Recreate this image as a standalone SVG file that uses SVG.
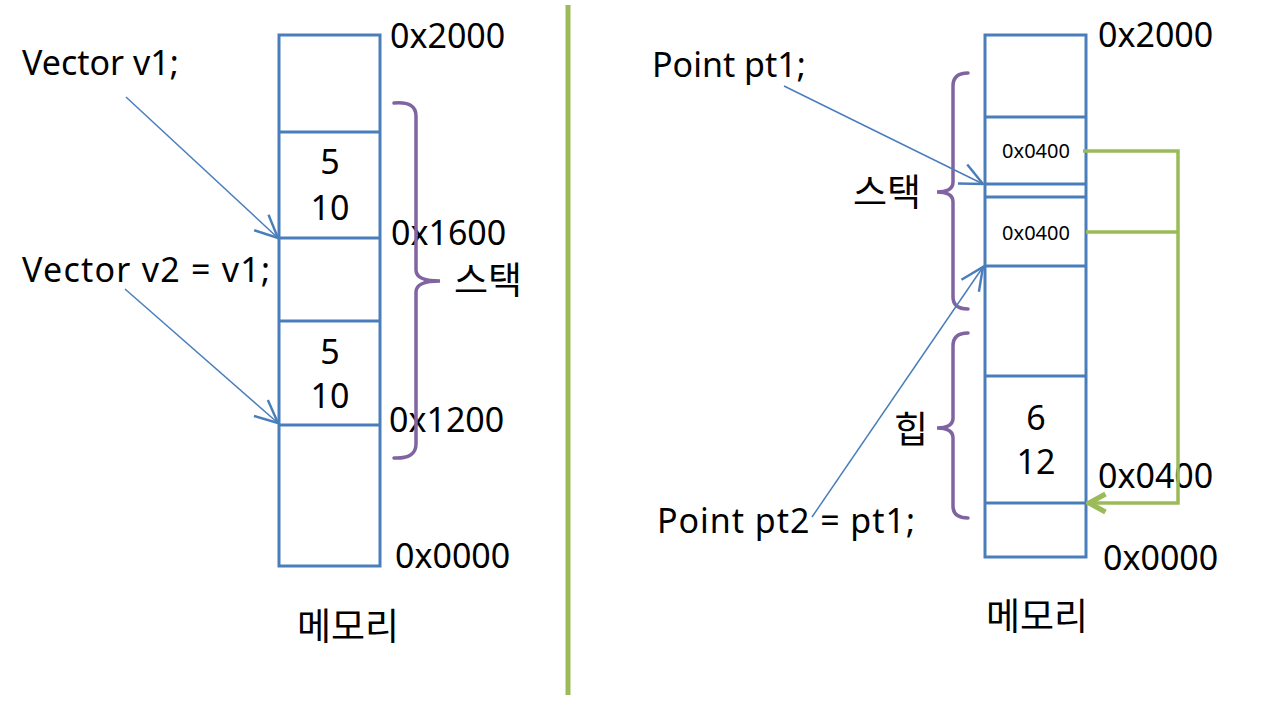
<svg xmlns="http://www.w3.org/2000/svg" width="1280" height="709" viewBox="0 0 1280 709">
<defs>
<style>
.t{font-family:"Noto Sans","Noto Sans CJK KR",sans-serif;fill:#000}
.big{font-size:34px}
.kr{font-size:37px}
.sm{font-size:20px}
.cell{fill:#fff;stroke:#4A7EBB;stroke-width:3}
.hl{stroke:#4A7EBB;stroke-width:3}
.ptr{stroke:#4A7EBB;stroke-width:1.5;fill:none}
.br{stroke:#8064A2;stroke-width:3.5;fill:none;stroke-linecap:round}
.gr{stroke:#9BBB59;stroke-width:3.5;fill:none}
</style>
<marker id="ab" markerUnits="userSpaceOnUse" markerWidth="26" markerHeight="26" refX="15" refY="8" orient="auto" viewBox="0 0 16 16">
<path d="M1,1.5 L15,8 L1,14.5" fill="none" stroke="#4A7EBB" stroke-width="1.5"/>
</marker>
<marker id="ag" markerUnits="userSpaceOnUse" markerWidth="24" markerHeight="24" refX="14" refY="8" orient="auto" viewBox="0 0 16 16">
<path d="M3,2 L14,8 L3,14" fill="none" stroke="#9BBB59" stroke-width="3.5"/>
</marker>
</defs>
<rect width="1280" height="709" fill="#fff"/>

<line x1="568" y1="5" x2="568" y2="695" stroke="#9BBB59" stroke-width="5"/>

<g id="left-memory">
<rect class="cell" x="279" y="35" width="101" height="531"/>
<line class="hl" x1="279" y1="132" x2="380" y2="132"/>
<line class="hl" x1="279" y1="238" x2="380" y2="238"/>
<line class="hl" x1="279" y1="321" x2="380" y2="321"/>
<line class="hl" x1="279" y1="425" x2="380" y2="425"/>
<text class="t big" x="330" y="174" text-anchor="middle">5</text>
<text class="t big" x="330" y="220" text-anchor="middle">10</text>
<text class="t big" x="330" y="364" text-anchor="middle">5</text>
<text class="t big" x="330" y="408" text-anchor="middle">10</text>
<text class="t kr" x="348" y="640" text-anchor="middle">메모리</text>
</g>

<g id="left-addresses">
<text class="t big" x="390" y="48">0x2000</text>
<text class="t big" x="391" y="245">0x1600</text>
<text class="t big" x="389" y="432">0x1200</text>
<text class="t big" x="395" y="568">0x0000</text>
</g>

<g id="left-code">
<text class="t big" x="22" y="75">Vector v1;</text>
<text class="t big" x="22" y="282" textLength="248">Vector v2 = v1;</text>
</g>

<g id="left-stack">
<path class="br" d="M394,103 Q416,101 416,116 V270 Q416,281 440,281 Q416,281 416,292 V444 Q416,459 394,458"/>
<text class="t kr" x="488" y="294" text-anchor="middle">스택</text>
</g>

<g id="right-memory">
<rect class="cell" x="985" y="35" width="101" height="522"/>
<line class="hl" x1="985" y1="117" x2="1086" y2="117"/>
<line class="hl" x1="985" y1="184" x2="1086" y2="184"/>
<line class="hl" x1="985" y1="197" x2="1086" y2="197"/>
<line class="hl" x1="985" y1="266" x2="1086" y2="266"/>
<line class="hl" x1="985" y1="376" x2="1086" y2="376"/>
<line class="hl" x1="985" y1="503" x2="1086" y2="503"/>
<text class="t sm" x="1036" y="158" text-anchor="middle">0x0400</text>
<text class="t sm" x="1036" y="240" text-anchor="middle">0x0400</text>
<text class="t big" x="1036" y="430" text-anchor="middle">6</text>
<text class="t big" x="1036" y="474" text-anchor="middle">12</text>
<text class="t kr" x="1037" y="630" text-anchor="middle">메모리</text>
</g>

<g id="right-addresses">
<text class="t big" x="1098" y="47">0x2000</text>
<text class="t big" x="1098" y="488">0x0400</text>
<text class="t big" x="1103" y="570">0x0000</text>
</g>

<g id="right-code">
<text class="t big" x="652" y="77">Point pt1;</text>
<text class="t big" x="657" y="533" textLength="258">Point pt2 = pt1;</text>
</g>

<g id="right-stack">
<path class="br" d="M968,73 Q953,73 953,86 V182 Q953,192 937,192 Q953,192 953,202 V297 Q953,309 968,309"/>
<text class="t kr" x="887" y="206" text-anchor="middle">스택</text>
</g>

<g id="right-heap">
<path class="br" d="M968,333 Q953,333 953,346 V418 Q953,428 937,428 Q953,428 953,438 V506 Q953,518 968,518"/>
<text class="t kr" x="911" y="443" text-anchor="middle">힙</text>
</g>

<g id="connectors">
<line class="ptr" x1="126" y1="97" x2="278" y2="238" marker-end="url(#ab)"/>
<line class="ptr" x1="125" y1="289" x2="278" y2="423" marker-end="url(#ab)"/>
<line class="ptr" x1="784" y1="86" x2="983" y2="184" marker-end="url(#ab)"/>
<line class="ptr" x1="812" y1="517" x2="983" y2="267" marker-end="url(#ab)"/>
<path class="gr" d="M1083,151 H1178 V503 H1089" marker-end="url(#ag)"/>
<line class="gr" x1="1086" y1="232" x2="1178" y2="232"/>
</g>
</svg>
